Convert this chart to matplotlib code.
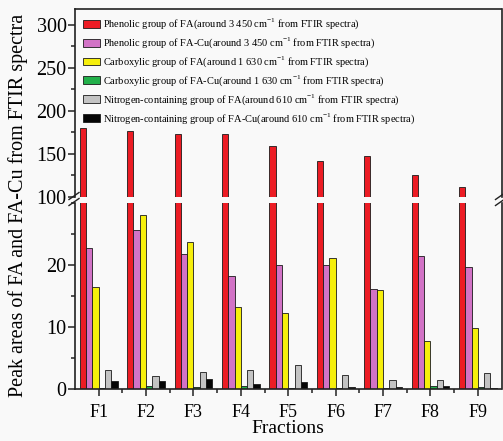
import numpy as np
import matplotlib

matplotlib.use("Agg")
import matplotlib.pyplot as plt
from matplotlib.ticker import MultipleLocator

plt.rcParams["font.family"] = ["Liberation Serif", "DejaVu Serif"]
plt.rcParams["mathtext.fontset"] = "custom"
plt.rcParams["mathtext.rm"] = "Liberation Serif"

fractions = ["F1", "F2", "F3", "F4", "F5", "F6", "F7", "F8", "F9"]

phenolic_fa = [180.5, 176.0, 173.3, 173.3, 159.3, 141.9, 147.7, 125.9, 112.0]
phenolic_facu = [22.8, 25.6, 21.7, 18.3, 20.0, 20.0, 16.1, 21.5, 19.7]
carboxylic_fa = [16.5, 28.1, 23.7, 13.2, 12.2, 21.1, 15.9, 7.8, 9.8]
carboxylic_facu = [0.1, 0.5, 0.4, 0.5, 0.2, 0.2, 0.1, 0.5, 0.4]
nitrogen_fa = [3.0, 2.1, 2.8, 3.1, 3.8, 2.3, 1.5, 1.4, 2.6]
nitrogen_facu = [1.3, 1.3, 1.6, 0.8, 1.1, 0.3, 0.3, 0.5, 0.2]

cm = r"cm$^{\mathregular{-1}}$"
labels = [
    f"Phenolic group of FA(around 3 450 {cm} from FTIR spectra)",
    f"Phenolic group of FA-Cu(around 3 450 {cm} from FTIR spectra)",
    f"Carboxylic group of FA(around 1 630 {cm} from FTIR spectra)",
    f"Carboxylic group of FA-Cu(around 1 630 {cm} from FTIR spectra)",
    f"Nitrogen-containing group of FA(around 610 {cm} from FTIR spectra)",
    f"Nitrogen-containing group of FA-Cu(around 610 {cm} from FTIR spectra)",
]
series = [phenolic_fa, phenolic_facu, carboxylic_fa,
          carboxylic_facu, nitrogen_fa, nitrogen_facu]
colors = ["#ec1c24", "#d273c6", "#f6ef0c", "#22b04a", "#c3c3c3", "#050505"]

bg = "#f9f9f9"
W, H = 503, 441
fig = plt.figure(figsize=(W / 100, H / 100), dpi=100, facecolor=bg)

x0, x1 = 75 / W, 501.5 / W
ax_top = fig.add_axes([x0, 1 - 197 / H, x1 - x0, (197 - 9) / H], facecolor=bg)
ax_bot = fig.add_axes([x0, 1 - 389 / H, x1 - x0, (389 - 203) / H], facecolor=bg)

x = np.arange(1, len(fractions) + 1)
bw = 0.133
handles = []
for ax in (ax_top, ax_bot):
    for i, (vals, c) in enumerate(zip(series, colors)):
        b = ax.bar(x + (i - 2.5) * bw, vals, bw, color=c,
                   edgecolor="#1a1a1a", linewidth=0.6)
        if ax is ax_top:
            handles.append(b)
    ax.set_xlim(0.5, 9.5)
    for s in ax.spines.values():
        s.set_linewidth(1.2)
        s.set_color("#222222")
    ax.tick_params(axis="both", which="both", direction="out",
                   color="#222222", width=1.1)
    ax.tick_params(axis="y", which="major", length=5, labelsize=14.5, pad=1)
    ax.tick_params(axis="y", which="minor", length=3)
    ax.tick_params(right=False, top=False)

ax_top.set_ylim(100, 318)
ax_top.yaxis.set_major_locator(MultipleLocator(50))
ax_top.yaxis.set_minor_locator(MultipleLocator(25))
ax_top.spines["bottom"].set_visible(False)
ax_top.tick_params(axis="x", which="both", bottom=False, labelbottom=False)

ax_bot.set_ylim(0, 30)
ax_bot.set_yticks([0, 10, 20])
ax_bot.yaxis.set_minor_locator(MultipleLocator(5))
ax_bot.spines["top"].set_visible(False)
ax_bot.set_xticks(x)
ax_bot.set_xticklabels(fractions)
ax_bot.set_xticks(x[:-1] + 0.5, minor=True)
ax_bot.tick_params(axis="x", which="major", length=5, labelsize=13, pad=6)
ax_bot.tick_params(axis="x", which="minor", length=3)
ax_bot.set_xlabel("Fractions", fontsize=14, labelpad=-1)

# break marks across the left and right spines
for xs in (x0, x1):
    for dy in (196, 202):
        yc = 1 - dy / H
        fig.add_artist(plt.Line2D([xs - 6 / W, xs + 4 / W],
                                  [yc - 3.5 / H, yc + 3.5 / H],
                                  color="#222222", lw=1.0))

ax_top.legend(handles, labels, loc="upper left", bbox_to_anchor=(0.0, 1.0),
              frameon=False, fontsize=7.5, handlelength=1.65,
              handleheight=0.8, handletextpad=0.25, labelspacing=0.42,
              borderaxespad=0.3, borderpad=0.45)

fig.text(18 / W, 1 - 205 / H, "Peak areas of FA and FA-Cu from FTIR spectra",
         rotation=90, ha="center", va="center", fontsize=14.5)

fig.savefig("out.png", dpi=100, facecolor=bg)
